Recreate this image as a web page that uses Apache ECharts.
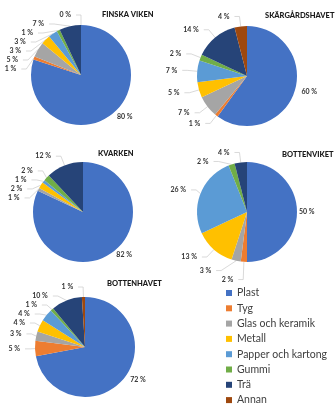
<!DOCTYPE html>
<html><head><meta charset="utf-8">
<script src="https://cdn.jsdelivr.net/npm/echarts@6/dist/echarts.min.js"></script>
<style>html,body{margin:0;padding:0;background:#fff}#c{width:335px;height:410px}</style>
</head><body><div id="c"></div>
<script>
const categories = ['Plast','Tyg','Glas och keramik','Metall','Papper och kartong','Gummi','Trä','Annan'];
const colors = ['#4472C4','#ED7D31','#A5A5A5','#FFC000','#5B9BD5','#70AD47','#264478','#9E480E'];
const regions = ['FINSKA VIKEN','SKÄRGÅRDSHAVET','KVARKEN','BOTTENVIKET','BOTTENHAVET'];
const finskaViken = [80, 1, 5, 3, 3, 1, 7, 0];
const skargardshavet = [60, 1, 7, 5, 7, 2, 14, 4];
const kvarken = [82, null, 1, 2, 1, 2, 12, null];
const bottenviket = [50, 2, 3, 13, 26, 2, 4, null];
const bottenhavet = [72, 5, 3, 4, 4, 1, 10, 1];
const regionValues = [finskaViken, skargardshavet, kvarken, bottenviket, bottenhavet];

const centers = [[81,75],[247,76],[83,212],[247,212],[85,347]];
const titlePos = [[102,11],[265,12],[98,150],[282,151],[107,280]];
const FONT = 'Lato';

const chart = echarts.init(document.getElementById('c'), null, {renderer:'canvas'});
const series = regionValues.map((vals, i) => ({
  type: 'pie',
  name: regions[i],
  center: centers[i],
  radius: 50,
  startAngle: 90,
  clockwise: true,
  avoidLabelOverlap: true,
  animation: false,
  label: {
    show: true,
    position: 'outside',
    overflow: 'none',
    fontFamily: FONT,
    fontSize: 7,
    fontWeight: 'bold',
    formatter: p => p.value == null ? '' : Math.round(p.value) + ' %'
  },
  labelLine: { show: true, length: 10, length2: 5, lineStyle: { color: '#BFBFBF', width: 0.6 } },
  itemStyle: { borderWidth: 0 },
  emphasis: { disabled: true },
  data: categories.map((name, k) => ({
    name: name,
    value: vals[k] == null ? '-' : vals[k],
    label: { show: vals[k] != null },
    labelLine: k === 0
      ? { show: false, length: 1, length2: 1 }
      : { show: vals[k] != null }
  }))
}));

chart.setOption({
  color: colors,
  animation: false,
  title: regions.map((t, i) => ({
    text: t,
    left: titlePos[i][0],
    top: titlePos[i][1],
    padding: 0,
    textStyle: { fontFamily: FONT, fontSize: 7.5, fontWeight: 900, color: '#1a1a1a' }
  })),
  legend: {
    orient: 'vertical',
    left: 226,
    top: 287,
    icon: 'rect',
    itemWidth: 6,
    itemHeight: 6,
    itemGap: 3.3,
    padding: 0,
    data: categories,
    textStyle: { fontFamily: FONT, fontSize: 10.5, color: '#404040', lineHeight: 12 }
  },
  series: series
});
</script></body></html>
